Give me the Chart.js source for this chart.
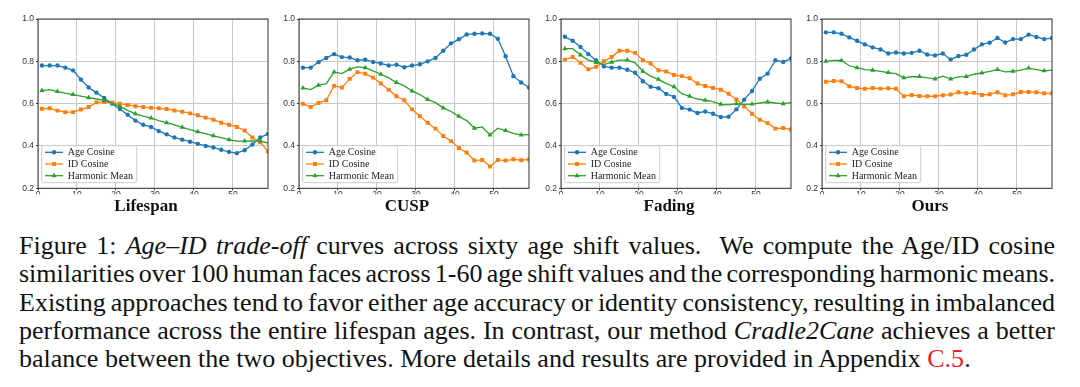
<!DOCTYPE html>
<html>
<head>
<meta charset="utf-8">
<script src="https://cdn.jsdelivr.net/npm/chart.js@4.4.1/dist/chart.umd.min.js"></script>
<style>
  body { margin: 0; background: #fff; width: 1080px; height: 387px; overflow: hidden; position: relative; }
  canvas { position: absolute; top: 0; }
  .caption { position: absolute; left: 19px; top: 232px; width: 1036px; font-family: "Liberation Serif", "Times New Roman", serif; font-size: 26px; color: #111; }
  .caption div { height: 28.3px; line-height: 28.3px; white-space: nowrap; text-align: justify; text-align-last: justify; word-spacing: -2.5px; }
  .caption div.last { text-align-last: left; word-spacing: 0; }
  .caption .ref { color: #ee1c25; }
</style>
</head>
<body>
<canvas id="lifespan" width="268" height="220" style="left:4px"></canvas>
<canvas id="cusp" width="268" height="220" style="left:265px"></canvas>
<canvas id="fading" width="268" height="220" style="left:527px"></canvas>
<canvas id="ours" width="268" height="220" style="left:788px"></canvas>

<div class="caption">
  <div>Figure 1: <i>Age–ID trade-off</i> curves across sixty age shift values.&nbsp; We compute the Age/ID cosine</div>
  <div>similarities over 100 human faces across 1-60 age shift values and the corresponding harmonic means.</div>
  <div>Existing approaches tend to favor either age accuracy or identity consistency, resulting in imbalanced</div>
  <div>performance across the entire lifespan ages. In contrast, our method <i>Cradle2Cane</i> achieves a better</div>
  <div class="last">balance between the two objectives. More details and results are provided in Appendix <span class="ref">C.5</span>.</div>
</div>

<script>
// age shift values (every second step, as marked in the figure)
const ageShift = [1, 3, 5, 7, 9, 11, 13, 15, 17, 19, 21, 23, 25, 27, 29, 31, 33, 35, 37, 39, 41, 43, 45, 47, 49, 51, 53, 55, 57, 59];
const xTicks = [0, 10, 20, 30, 40, 50];
const yTicks = [0.2, 0.4, 0.6, 0.8, 1.0];
const seriesNames = ["Age Cosine", "ID Cosine", "Harmonic Mean"];

const lifespanAge = [0.78, 0.78, 0.78, 0.77, 0.757, 0.714, 0.676, 0.652, 0.627, 0.60, 0.575, 0.548, 0.52, 0.50, 0.49, 0.47, 0.455, 0.44, 0.43, 0.42, 0.41, 0.40, 0.393, 0.382, 0.372, 0.366, 0.38, 0.407, 0.44, 0.457];
const lifespanId = [0.576, 0.578, 0.567, 0.56, 0.56, 0.572, 0.584, 0.606, 0.608, 0.606, 0.60, 0.594, 0.588, 0.584, 0.58, 0.578, 0.575, 0.568, 0.562, 0.554, 0.545, 0.534, 0.524, 0.51, 0.50, 0.49, 0.473, 0.44, 0.418, 0.375];
const lifespanHm = [0.662, 0.666, 0.657, 0.65, 0.643, 0.636, 0.628, 0.622, 0.616, 0.603, 0.587, 0.568, 0.552, 0.541, 0.532, 0.52, 0.51, 0.50, 0.488, 0.477, 0.467, 0.458, 0.448, 0.44, 0.43, 0.423, 0.423, 0.424, 0.423, 0.415];

const cuspAge = [0.77, 0.77, 0.796, 0.816, 0.834, 0.82, 0.818, 0.805, 0.808, 0.797, 0.79, 0.78, 0.784, 0.772, 0.78, 0.786, 0.80, 0.816, 0.85, 0.885, 0.904, 0.927, 0.93, 0.932, 0.93, 0.907, 0.824, 0.73, 0.70, 0.676];
const cuspId = [0.60, 0.584, 0.603, 0.616, 0.684, 0.676, 0.717, 0.749, 0.741, 0.723, 0.695, 0.666, 0.635, 0.616, 0.573, 0.541, 0.51, 0.482, 0.447, 0.423, 0.39, 0.369, 0.331, 0.334, 0.303, 0.334, 0.331, 0.337, 0.333, 0.336];
const cuspHm = [0.674, 0.666, 0.687, 0.695, 0.75, 0.742, 0.763, 0.774, 0.77, 0.755, 0.739, 0.722, 0.70, 0.684, 0.66, 0.643, 0.62, 0.605, 0.58, 0.563, 0.54, 0.52, 0.484, 0.49, 0.452, 0.484, 0.473, 0.46, 0.452, 0.454];

const fadingAge = [0.916, 0.897, 0.868, 0.834, 0.805, 0.776, 0.77, 0.77, 0.76, 0.746, 0.706, 0.68, 0.673, 0.646, 0.632, 0.58, 0.572, 0.556, 0.563, 0.552, 0.537, 0.538, 0.573, 0.619, 0.66, 0.718, 0.742, 0.805, 0.797, 0.813];
const fadingId = [0.808, 0.82, 0.793, 0.763, 0.774, 0.80, 0.82, 0.85, 0.85, 0.84, 0.805, 0.79, 0.758, 0.752, 0.735, 0.73, 0.72, 0.695, 0.683, 0.674, 0.666, 0.647, 0.62, 0.587, 0.552, 0.524, 0.508, 0.482, 0.485, 0.478];
const fadingHm = [0.86, 0.86, 0.83, 0.806, 0.795, 0.785, 0.796, 0.806, 0.806, 0.793, 0.753, 0.73, 0.715, 0.695, 0.68, 0.647, 0.635, 0.622, 0.616, 0.61, 0.597, 0.594, 0.60, 0.597, 0.598, 0.603, 0.608, 0.603, 0.60, 0.605];

const oursAge = [0.937, 0.937, 0.93, 0.913, 0.897, 0.88, 0.866, 0.856, 0.837, 0.842, 0.837, 0.84, 0.85, 0.832, 0.828, 0.837, 0.809, 0.825, 0.831, 0.856, 0.88, 0.888, 0.91, 0.889, 0.905, 0.905, 0.926, 0.915, 0.905, 0.91];
const oursId = [0.703, 0.707, 0.706, 0.682, 0.674, 0.67, 0.674, 0.671, 0.673, 0.67, 0.635, 0.641, 0.636, 0.635, 0.635, 0.64, 0.643, 0.654, 0.649, 0.651, 0.641, 0.644, 0.654, 0.64, 0.644, 0.655, 0.655, 0.654, 0.649, 0.649];
const oursHm = [0.80, 0.804, 0.804, 0.779, 0.77, 0.761, 0.758, 0.753, 0.747, 0.742, 0.722, 0.727, 0.728, 0.722, 0.717, 0.73, 0.717, 0.727, 0.728, 0.739, 0.745, 0.752, 0.761, 0.75, 0.753, 0.758, 0.768, 0.761, 0.755, 0.758];

const colors = ["#1f77b4", "#ff7f0e", "#2ca02c"];
const styles = ["circle", "rect", "triangle"];
const radii = [2.2, 2.8, 3];

// box around the plot area
const frame = {
  id: "frame",
  afterDraw(chart) {
    const { ctx, chartArea: a } = chart;
    ctx.save();
    ctx.strokeStyle = "#333";
    ctx.lineWidth = 1;
    ctx.strokeRect(a.left, a.top, a.right - a.left, a.bottom - a.top);
    ctx.restore();
  },
};

// bold panel name under the x axis (sits a little left of the plot centre)
const panelTitle = {
  id: "panelTitle",
  afterDraw(chart, args, opts) {
    const { ctx, chartArea: a } = chart;
    ctx.save();
    ctx.font = 'bold 17px "Liberation Serif", serif';
    ctx.fillStyle = "#111";
    ctx.textAlign = "center";
    ctx.textBaseline = "alphabetic";
    ctx.fillText(opts.text, (a.left + a.right) / 2 - 7, 210.5);
    ctx.restore();
  },
};

// legend drawn in the lower left corner inside the axes
const innerLegend = {
  id: "innerLegend",
  afterDatasetsDraw(chart) {
    const { ctx, chartArea: a } = chart;
    const w = 95, h = 37;
    const x0 = a.left + 3.7, y0 = a.bottom - 5.6 - h;
    ctx.save();
    ctx.fillStyle = "rgba(255,255,255,0.85)";
    ctx.strokeStyle = "#cccccc";
    ctx.lineWidth = 1;
    ctx.beginPath();
    ctx.roundRect(x0, y0, w, h, 2);
    ctx.fill();
    ctx.stroke();
    ctx.font = '10px "Liberation Serif", serif';
    ctx.textBaseline = "middle";
    seriesNames.forEach((name, i) => {
      const y = y0 + 6.6 + i * 11.7;
      ctx.strokeStyle = colors[i];
      ctx.lineWidth = 1.3;
      ctx.beginPath();
      ctx.moveTo(x0 + 3.3, y);
      ctx.lineTo(x0 + 21.3, y);
      ctx.stroke();
      ctx.fillStyle = colors[i];
      Chart.helpers.drawPoint(ctx, { pointStyle: styles[i], radius: radii[i], rotation: 0, borderWidth: 0 }, x0 + 12.3, y);
      ctx.fillStyle = "#222";
      ctx.fillText(name, x0 + 26, y + 0.5);
    });
    ctx.restore();
  },
};

function makeChart(id, title, age, idCos, hm) {
  const series = [age, idCos, hm];
  const datasets = series.map((vals, i) => ({
    label: seriesNames[i],
    data: ageShift.map((x, j) => ({ x: x, y: vals[j] })),
    borderColor: colors[i],
    backgroundColor: colors[i],
    borderWidth: 1.3,
    pointStyle: styles[i],
    pointRadius: i === 2 ? (c) => (c.dataIndex % 2 === 0 ? radii[i] : 0) : radii[i],
    pointBorderWidth: 0,
    tension: 0,
    clip: 0,
    order: 2 - i,
  }));

  new Chart(document.getElementById(id), {
    type: "line",
    data: { datasets: datasets },
    plugins: [innerLegend, frame, panelTitle],
    options: {
      responsive: false,
      animation: false,
      layout: { padding: { left: 0, right: 4, top: 19, bottom: 25.7 } },
      plugins: {
        legend: { display: false },
        tooltip: { enabled: false },
        title: { display: false },
        panelTitle: { text: title },
      },
      scales: {
        x: {
          type: "linear",
          min: 0,
          max: 59,
          afterFit: (s) => { s.height = 6; },
          afterBuildTicks: (s) => { s.ticks = xTicks.map((v) => ({ value: v })); },
          grid: { color: "#c8c8c8", lineWidth: 1, tickLength: 2, tickColor: "#333" },
          border: { display: false },
          ticks: { padding: -1, color: "#333", font: { family: '"Liberation Sans", sans-serif', size: 8.5 } },
        },
        y: {
          min: 0.2,
          max: 1.0,
          afterFit: (s) => { s.width = 34; },
          afterBuildTicks: (s) => { s.ticks = yTicks.map((v) => ({ value: v })); },
          grid: { color: "#c8c8c8", lineWidth: 1, tickLength: 2, tickColor: "#333" },
          border: { display: false },
          ticks: {
            padding: 2,
            color: "#333",
            font: { family: '"Liberation Sans", sans-serif', size: 8.5 },
            callback: (v) => v.toFixed(1),
          },
        },
      },
    },
  });
}

makeChart("lifespan", "Lifespan", lifespanAge, lifespanId, lifespanHm);
makeChart("cusp", "CUSP", cuspAge, cuspId, cuspHm);
makeChart("fading", "Fading", fadingAge, fadingId, fadingHm);
makeChart("ours", "Ours", oursAge, oursId, oursHm);
</script>
</body>
</html>
